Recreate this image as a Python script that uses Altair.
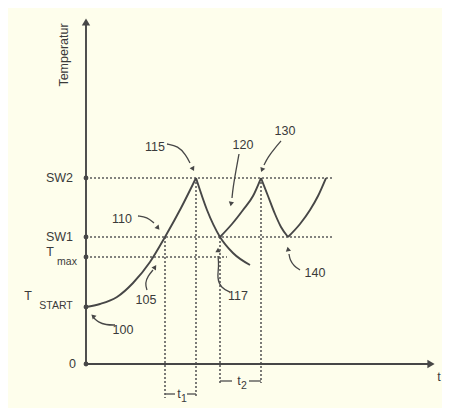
import altair as alt
import pandas as pd

# ---- levels (temperature units) ----
SW2, SW1, TMAX, TSTART, ZERO = 18.6, 12.7, 10.7, 5.7, 0.0

# ---- curves (time, temperature) ----
c1_t = [0.0, 1.4, 3.1, 4.7, 6.4, 7.9, 9.5, 11.0]
c1_T = [5.7, 6.0, 6.7, 8.1, 10.2, 12.7, 15.6, 18.6]
c2_t = [11.0, 12.1, 13.4, 14.7, 16.4]
c2_T = [18.6, 15.4, 12.7, 11.1, 9.9]
c3_t = [13.4, 14.6, 15.7, 16.7, 17.5]
c3_T = [12.7, 14.0, 15.4, 16.8, 18.6]
c4_t = [17.5, 18.2, 18.9, 19.5, 20.2]
c4_T = [18.6, 16.8, 15.0, 13.7, 12.7]
c5_t = [20.2, 21.4, 22.4, 23.2, 24.0]
c5_T = [12.7, 14.0, 15.4, 16.8, 18.6]

# ---- reference lines ----
h_T = [SW2, SW1, TMAX]
h_end = [24.7, 24.7, 14.1]
v_t = [7.9, 11.0, 13.4, 17.5]
v_top = [SW1, SW2, SW1, SW2]
v_bot = [-3.4, -3.4, -1.9, -1.9]

# ---- interval brackets ----
br_t0 = [7.9, 10.1, 13.4, 16.3]
br_t1 = [8.9, 11.0, 14.6, 17.5]
br_T = [-3.0, -3.0, -1.7, -1.7]

# ---- reference-number leader arrows ----
arrows = {
    "100": ([2.9, 2.0, 1.2, 0.8], [3.9, 3.9, 4.2, 4.6]),
    "105": ([6.1, 5.9, 6.2, 6.7], [7.4, 8.1, 8.8, 9.4]),
    "110": ([5.2, 6.1, 6.8], [14.8, 14.7, 14.1]),
    "115": ([8.1, 9.2, 10.0, 10.4], [22.0, 21.8, 20.9, 20.1]),
    "120": ([15.3, 15.0, 14.7, 14.6], [21.0, 19.4, 17.6, 16.6]),
    "130": ([19.5, 18.9, 18.2, 17.8], [22.3, 21.6, 20.7, 19.9]),
    "140": ([21.4, 20.8, 20.4, 20.3], [9.4, 9.8, 10.4, 11.0]),
    "117": ([14.4, 13.5, 13.1, 13.3, 13.2], [7.2, 7.6, 8.6, 9.8, 10.8]),
}
head_t = [0.7, 6.9, 7.2, 10.7, 14.5, 17.6, 20.2, 13.2, 0.0, 34.5]
head_T = [4.8, 9.7, 13.6, 19.5, 16.0, 19.4, 11.5, 11.4, 34.2, 0.0]
head_ang = [315, 34, 141, 153, 190, 202, 349, 0, 0, 90]
head_sz = [28, 28, 28, 28, 28, 28, 28, 28, 70, 70]

# ---- labels ----
num_labels = ["100", "105", "110", "115", "120", "130", "140", "117"]
num_t = [3.7, 6.0, 3.6, 6.9, 15.7, 19.9, 22.9, 15.2]
num_T = [3.4, 6.4, 14.5, 21.7, 21.9, 23.3, 9.1, 6.8]

INK = "#474747"
TXT = "#3a3a3a"
BG = "#fefeec"

xs = alt.Scale(domain=[-7.8, 35.6], nice=False, zero=False)
ys = alt.Scale(domain=[-4.4, 35.6], nice=False, zero=False)


def X(f="t"):
    return alt.X(f"{f}:Q", scale=xs, axis=None)


def Y(f="T"):
    return alt.Y(f"{f}:Q", scale=ys, axis=None)


# curves
rows = []
for cid, (tt, TT) in enumerate([(c1_t, c1_T), (c2_t, c2_T), (c3_t, c3_T),
                                (c4_t, c4_T), (c5_t, c5_T)]):
    for i, (a, b) in enumerate(zip(tt, TT)):
        rows.append({"id": cid, "o": i, "t": a, "T": b})
curves = alt.Chart(pd.DataFrame(rows)).mark_line(
    color=INK, strokeWidth=1.9, interpolate="monotone"
).encode(x=X(), y=Y(), detail="id:N", order="o:Q")

# dashed lines
hdf = pd.DataFrame({"t": [0.0] * 3, "t2": h_end, "T": h_T, "T2": h_T})
vdf = pd.DataFrame({"t": v_t, "t2": v_t, "T": v_top, "T2": v_bot})
dash = alt.Chart(pd.concat([hdf, vdf])).mark_rule(
    color="#5a5a5a", strokeWidth=1.6, strokeDash=[2, 2]
).encode(x=X(), x2="t2:Q", y=Y(), y2="T2:Q")

# axes
adf = pd.DataFrame({"t": [0.0, 0.0], "t2": [0.0, 34.4], "T": [0.0, 0.0], "T2": [34.0, 0.0]})
axes = alt.Chart(adf).mark_rule(color=INK, strokeWidth=1.9).encode(
    x=X(), x2="t2:Q", y=Y(), y2="T2:Q")

dots = alt.Chart(pd.DataFrame({"t": [0.0] * 5, "T": [SW2, SW1, TMAX, TSTART, ZERO]})).mark_point(
    filled=True, color=INK, size=24, opacity=1).encode(x=X(), y=Y())

# brackets
bdf = pd.DataFrame({"t": br_t0, "t2": br_t1, "T": br_T})
brackets = alt.Chart(bdf).mark_rule(color="#5a5a5a", strokeWidth=1.4).encode(
    x=X(), x2="t2:Q", y=Y())

# leaders
arows = []
for k, (tt, TT) in arrows.items():
    for i, (a, b) in enumerate(zip(tt, TT)):
        arows.append({"id": k, "o": i, "t": a, "T": b})
leaders = alt.Chart(pd.DataFrame(arows)).mark_line(
    color=INK, strokeWidth=1.3, interpolate="basis"
).encode(x=X(), y=Y(), detail="id:N", order="o:Q")

heads = alt.Chart(pd.DataFrame({"t": head_t, "T": head_T, "a": head_ang, "s": head_sz})).mark_point(
    shape="triangle-up", filled=True, color=INK, opacity=1
).encode(x=X(), y=Y(), angle=alt.Angle("a:Q", scale=None), size=alt.Size("s:Q", scale=None))

FONT = "Liberation Sans"

nums = alt.Chart(pd.DataFrame({"t": num_t, "T": num_T, "l": num_labels})).mark_text(
    font=FONT, fontSize=12.5, color=TXT, align="center", baseline="middle"
).encode(x=X(), y=Y(), text="l:N")

left_lbl = alt.Chart(pd.DataFrame({"t": [-1.3, -1.3, -1.0], "T": [SW2, SW1, ZERO],
                                   "l": ["SW2", "SW1", "0"]})).mark_text(
    font=FONT, fontSize=12.5, color=TXT, align="right", baseline="middle"
).encode(x=X(), y=Y(), text="l:N")

big_T = alt.Chart(pd.DataFrame({"t": [-3.6, -5.8, 9.3, 15.3, 35.3], "T": [11.2, 6.8, -3.0, -1.7, -1.3],
                                "l": ["T", "T", "t", "t", "t"]})).mark_text(
    font=FONT, fontSize=12.5, color=TXT, align="center", baseline="middle"
).encode(x=X(), y=Y(), text="l:N")

subs = alt.Chart(pd.DataFrame({"t": [-1.9, -3.0, 9.8, 15.8], "T": [10.2, 5.8, -3.5, -2.2],
                               "l": ["max", "START", "1", "2"]})).mark_text(
    font=FONT, fontSize=10.5, color=TXT, align="center", baseline="middle"
).encode(x=X(), y=Y(), text="l:N")

ylab = alt.Chart(pd.DataFrame({"t": [-2.2], "T": [30.9], "l": ["Temperatur"]})).mark_text(
    font=FONT, fontSize=12.5, color=TXT, align="center", baseline="middle", angle=270
).encode(x=X(), y=Y(), text="l:N")

chart = alt.layer(
    dash, brackets, axes, curves, leaders, heads, dots, nums, left_lbl, big_T, subs, ylab
).properties(
    width=434, height=400, padding=0, autosize="none", background=BG
).configure_view(stroke=None)

chart.save("out.html", embed_options={"renderer": "svg", "actions": False})
